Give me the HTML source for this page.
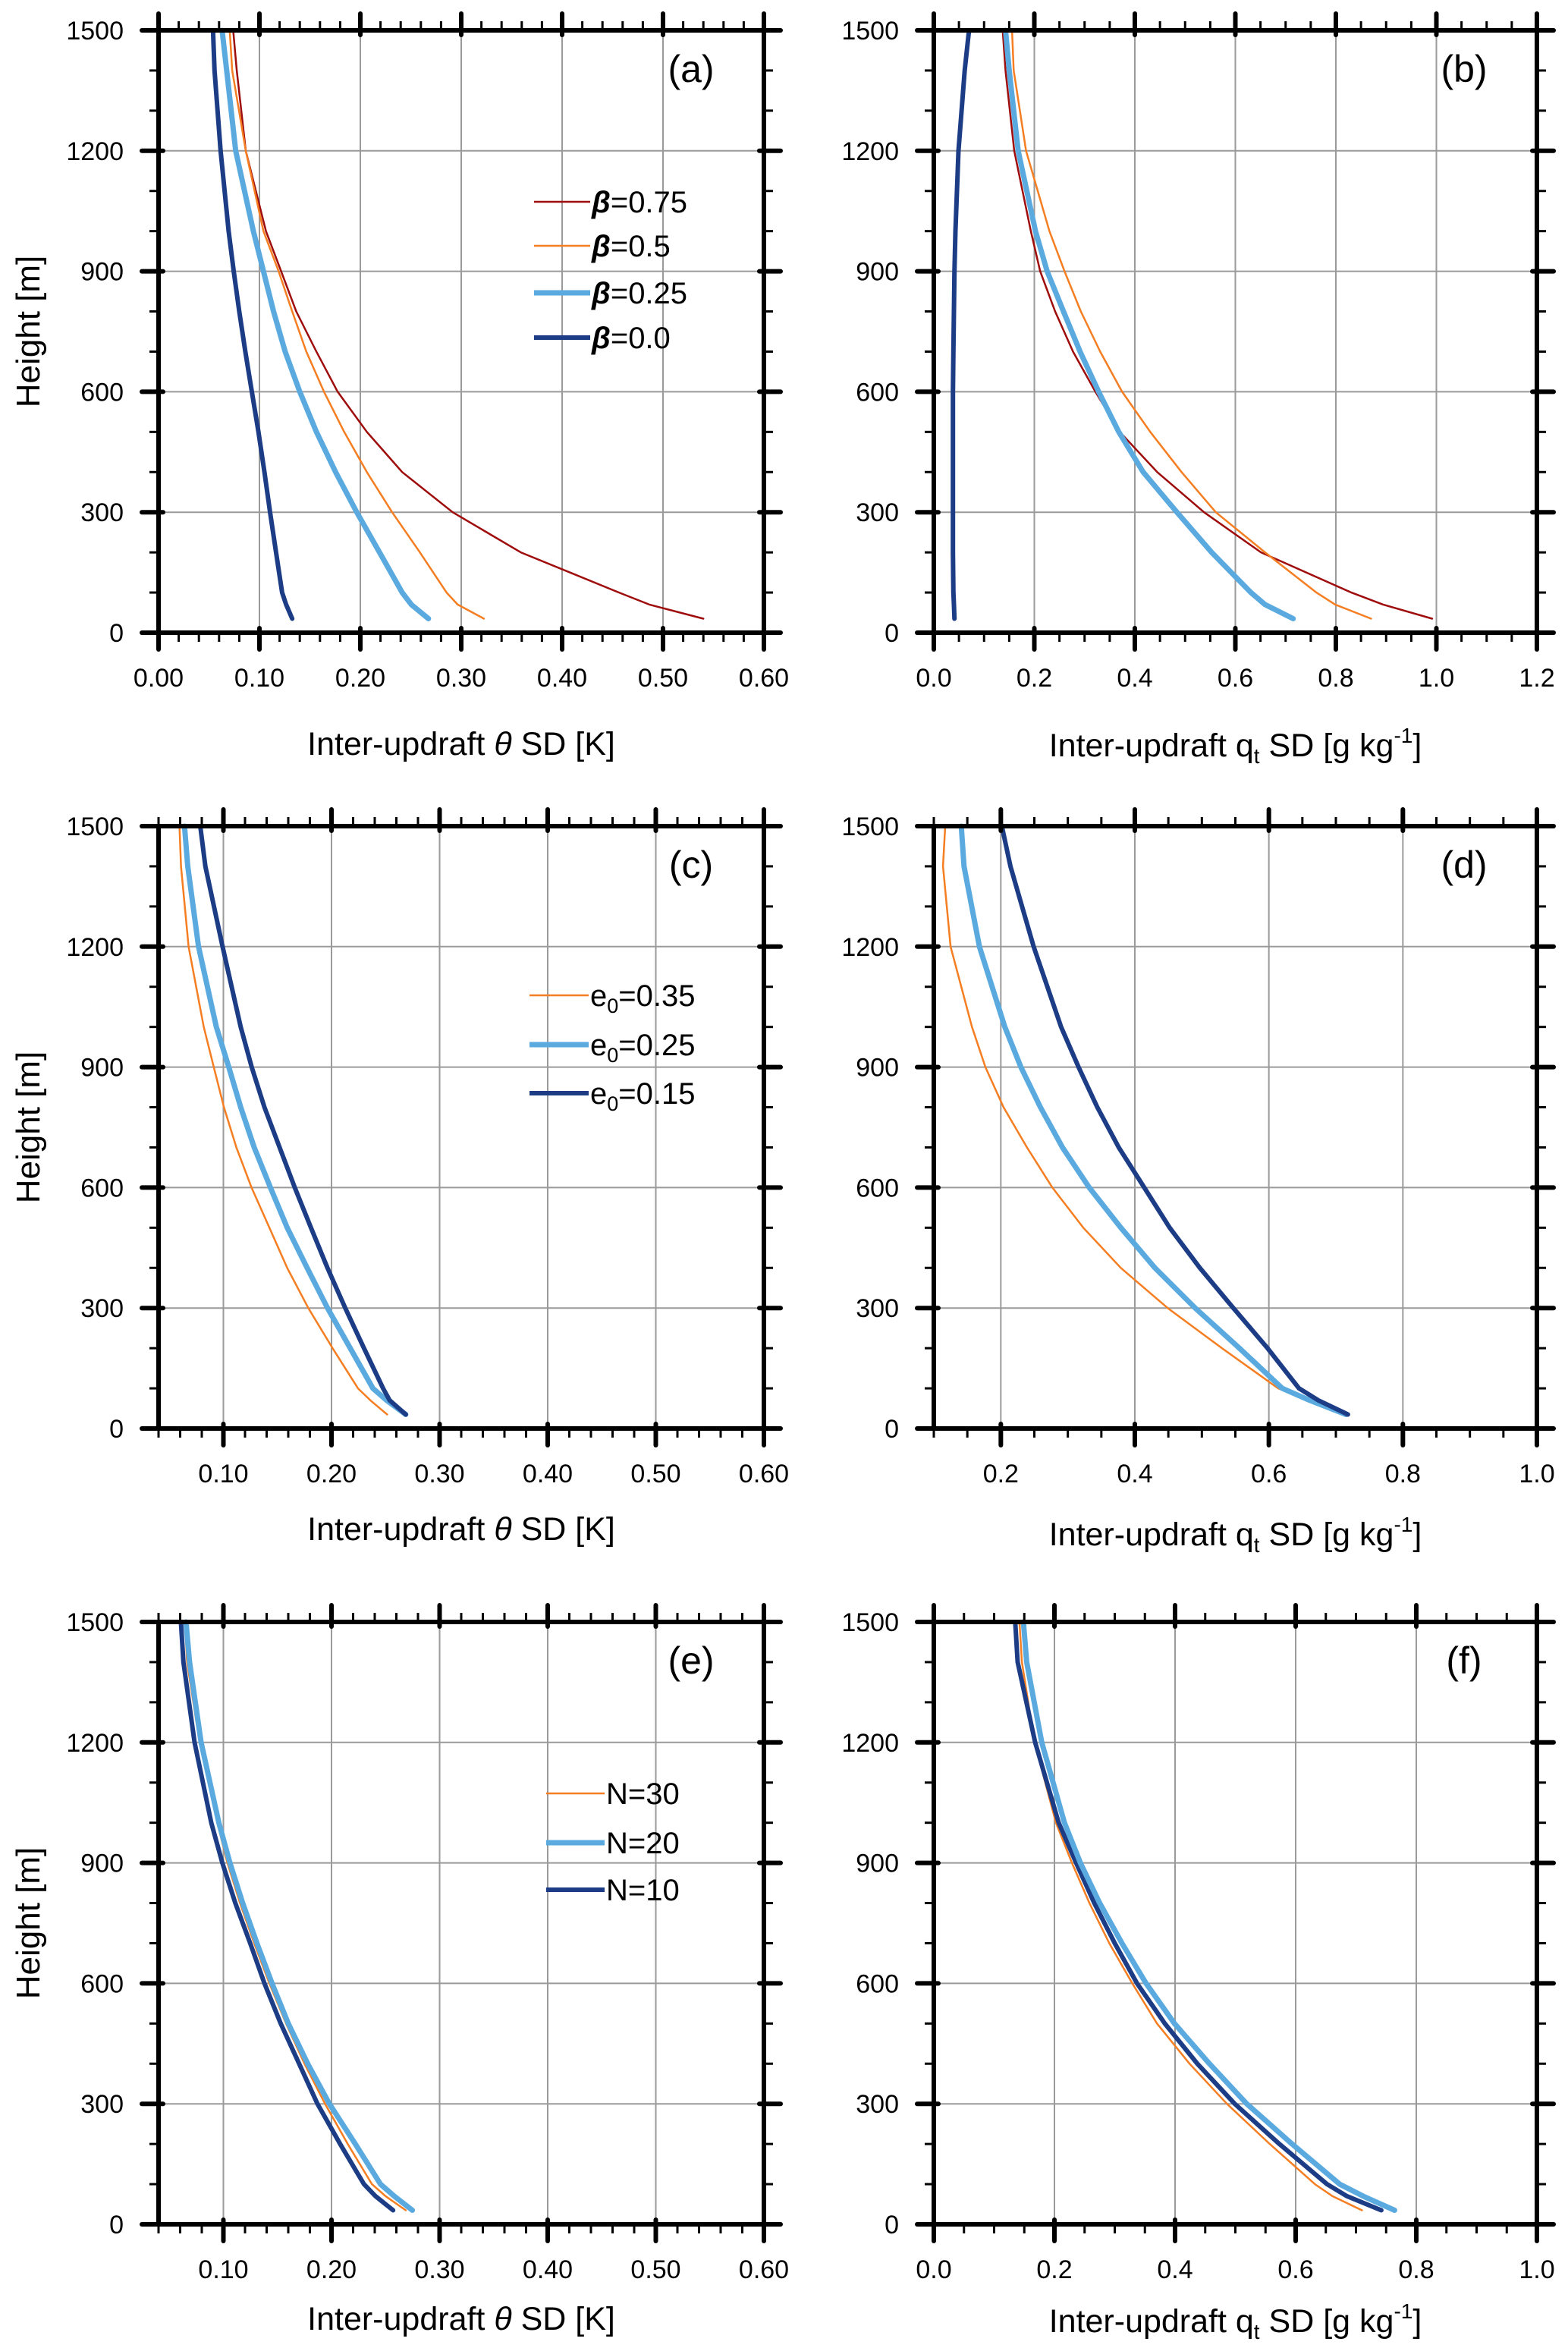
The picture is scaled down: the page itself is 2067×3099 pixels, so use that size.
<!DOCTYPE html>
<html><head><meta charset="utf-8"><style>
html,body{margin:0;padding:0;background:#fff;}
svg{display:block;font-family:"Liberation Sans",Arial,sans-serif;}
</style></head>
<body>
<svg id="fig" width="2067" height="3099" viewBox="0 0 2067 3099" xmlns="http://www.w3.org/2000/svg"></svg>
<script>
// ---- shared data ----
const heights = [1500,1400,1200,1000,900,800,700,600,500,400,300,200,100,70,35];
// panel a: theta SD, beta
const aB075 = [0.074,0.0775,0.0865,0.1065,0.1215,0.1365,0.1565,0.1775,0.2065,0.2415,0.2915,0.359,0.4565,0.4865,0.54];
const aB050 = [0.0705,0.073,0.0865,0.104,0.119,0.1325,0.1465,0.164,0.184,0.2065,0.2315,0.259,0.2855,0.2965,0.3225];
const aB025 = [0.063,0.0675,0.0765,0.094,0.104,0.114,0.1255,0.14,0.1565,0.1755,0.1965,0.219,0.2415,0.2505,0.2675];
const aB000 = [0.054,0.0555,0.0615,0.0695,0.0745,0.0800,0.0860,0.0925,0.099,0.105,0.1105,0.1165,0.1225,0.1265,0.1325];
// panel b: qt SD, beta
const bB075 = [0.137,0.1426,0.16,0.193,0.2116,0.2414,0.277,0.3215,0.37,0.4446,0.5377,0.651,0.831,0.894,0.9916];
const bB050 = [0.1556,0.159,0.1836,0.23,0.26,0.2926,0.331,0.3747,0.4306,0.493,0.561,0.659,0.7614,0.7987,0.87];
const bB025 = [0.1426,0.15,0.1678,0.2022,0.2255,0.258,0.291,0.328,0.368,0.4166,0.4837,0.5527,0.631,0.659,0.715];
const bB000 = [0.07,0.0615,0.049,0.043,0.041,0.04,0.039,0.038,0.038,0.038,0.038,0.038,0.039,0.04,0.041];
// panel c: theta SD, e0
const cE035 = [0.0594,0.0608,0.0678,0.0818,0.0911,0.1005,0.112,0.126,0.1425,0.159,0.1785,0.201,0.2245,0.236,0.2515];
const cE025 = [0.064,0.067,0.077,0.0935,0.105,0.116,0.1285,0.1435,0.159,0.1775,0.1963,0.2173,0.2383,0.251,0.2687];
const cE015 = [0.0786,0.0833,0.0992,0.116,0.1262,0.138,0.152,0.166,0.181,0.1963,0.2127,0.23,0.2477,0.2538,0.2687];
// panel d: qt SD, e0
const dE035 = [0.117,0.1137,0.125,0.157,0.177,0.204,0.239,0.277,0.323,0.379,0.449,0.53,0.614,0.661,0.715];
const dE025 = [0.141,0.145,0.168,0.206,0.23,0.259,0.292,0.332,0.379,0.43,0.49,0.556,0.62,0.661,0.715];
const dE015 = [0.2016,0.2143,0.249,0.29,0.316,0.344,0.376,0.414,0.452,0.497,0.547,0.598,0.645,0.674,0.718];
// panel e: theta SD, N
const eN30 = [0.0645,0.0664,0.078,0.0944,0.1037,0.1154,0.1285,0.1425,0.158,0.175,0.194,0.215,0.2374,0.25,0.2687];
const eN20 = [0.0654,0.0687,0.0794,0.0958,0.106,0.1178,0.131,0.145,0.16,0.178,0.198,0.222,0.2453,0.258,0.2748];
const eN10 = [0.0607,0.063,0.0733,0.0888,0.099,0.111,0.1248,0.138,0.153,0.17,0.187,0.208,0.23,0.2407,0.257];
// panel f: qt SD, N
const fN30 = [0.142,0.146,0.167,0.2025,0.229,0.258,0.291,0.329,0.37,0.424,0.486,0.557,0.632,0.661,0.71];
const fN20 = [0.1485,0.154,0.179,0.2166,0.243,0.275,0.312,0.352,0.399,0.457,0.519,0.594,0.673,0.712,0.764];
const fN10 = [0.135,0.139,0.168,0.207,0.236,0.266,0.30,0.337,0.383,0.437,0.499,0.573,0.652,0.685,0.742];
// tick labels
const thetaTicksA = ["0.00","0.10","0.20","0.30","0.40","0.50","0.60"];
const thetaTicksCE = ["0.10","0.20","0.30","0.40","0.50","0.60"];
const qtTicksB = ["0.0","0.2","0.4","0.6","0.8","1.0","1.2"];
const qtTicksD = ["0.2","0.4","0.6","0.8","1.0"];
const qtTicksF = ["0.0","0.2","0.4","0.6","0.8","1.0"];
const yTicks = ["0","300","600","900","1200","1500"];

const C_RED="#9e0c0c", C_OR="#f67e22", C_LB="#5aaae0", C_DB="#1c3d85";
const NS="http://www.w3.org/2000/svg";
const svg=document.getElementById('fig');
function mk(tag,attrs,parent){const e=document.createElementNS(NS,tag);for(const k in attrs)e.setAttribute(k,attrs[k]);(parent||svg).appendChild(e);return e;}

function panel(p){
  const g=mk('g',{});
  
  
  const X=v=>p.x0+(v-p.xmin)/(p.xmax-p.xmin)*(p.x1-p.x0);
  const Y=h=>p.y1-(h/1500)*(p.y1-p.y0);
  const grid=mk('g',{},g);
  
  
  p.xticks.forEach(t=>{const v=parseFloat(t);const x=X(v);
    if(x>p.x0+3&&x<p.x1-3){const l=mk('line',{x1:x,x2:x,y1:p.y0,y2:p.y1,stroke:'#9a9a9a','stroke-width':2},grid);
      }});
  yTicks.forEach(t=>{const y=Y(+t);
    if(y>p.y0+3&&y<p.y1-3){const l=mk('line',{x1:p.x0,x2:p.x1,y1:y,y2:y,stroke:'#9a9a9a','stroke-width':2},grid);
      }});
  p.series.forEach(s=>{
    const pts=s.vals.map((v,i)=>X(v).toFixed(1)+','+Y(heights[i]).toFixed(1)).join(' ');
    const pl=mk('polyline',{points:pts,fill:'none',stroke:s.color,'stroke-width':s.w,'stroke-linejoin':'round','stroke-linecap':'round'},g);
    
    
  });
  const tk=mk('g',{stroke:'#000'},g);
  
  
  for(let v=p.minorStart;v<=p.xmax+1e-9;v+=p.minor){const x=X(v);
    mk('line',{x1:x,x2:x,y1:p.y1,y2:p.y1+12,'stroke-width':3},tk);
    mk('line',{x1:x,x2:x,y1:p.y0,y2:p.y0-12,'stroke-width':3},tk);}
  for(let h=0;h<=1500;h+=100){const y=Y(h);
    mk('line',{x1:p.x0,x2:p.x0-12,y1:y,y2:y,'stroke-width':3},tk);
    mk('line',{x1:p.x1,x2:p.x1+12,y1:y,y2:y,'stroke-width':3},tk);}
  p.xticks.forEach(t=>{const x=X(parseFloat(t));
    mk('line',{x1:x,x2:x,y1:p.y1-6,y2:p.y1+22,'stroke-width':6,'stroke-linecap':'round'},tk);
    mk('line',{x1:x,x2:x,y1:p.y0+6,y2:p.y0-22,'stroke-width':6,'stroke-linecap':'round'},tk);});
  yTicks.forEach(t=>{const y=Y(+t);
    mk('line',{x1:p.x0+6,x2:p.x0-22,y1:y,y2:y,'stroke-width':6,'stroke-linecap':'round'},tk);
    mk('line',{x1:p.x1-6,x2:p.x1+22,y1:y,y2:y,'stroke-width':6,'stroke-linecap':'round'},tk);});
  const fr=mk('rect',{x:p.x0,y:p.y0,width:p.x1-p.x0,height:p.y1-p.y0,fill:'none',stroke:'#000','stroke-width':6},g);
  
  
  p.xticks.forEach(t=>{const tx=mk('text',{x:X(parseFloat(t)),y:p.y1+71,'font-size':34,'text-anchor':'middle'},g);tx.textContent=t;
    });
  yTicks.forEach(t=>{const tx=mk('text',{x:p.x0-46,y:Y(+t)+12,'font-size':34,'text-anchor':'end'},g);tx.textContent=t;
    });
  const xt=mk('text',{x:(p.x0+p.x1)/2,y:p.y1+p.titleOff+15,'font-size':43,'text-anchor':'middle'},g);
  
  if(p.kind==='theta'){
    xt.innerHTML='Inter-updraft <tspan font-style="italic">θ</tspan> SD [K]';
  } else {
    xt.innerHTML='Inter-updraft q<tspan font-size="28" dy="9">t</tspan><tspan dy="-9"> SD [g kg</tspan><tspan font-size="28" dy="-18">-1</tspan><tspan dy="18">]</tspan>';
  }
  if(p.ytitle){
    const yt=mk('text',{x:0,y:0,'font-size':44,'text-anchor':'middle',transform:'translate(52,'+((p.y0+p.y1)/2)+') rotate(-90)'},g);
    yt.textContent='Height [m]';
    
  }
  const pl=mk('text',{x:p.x1-96,y:p.y0+68,'font-size':50,'text-anchor':'middle'},g);
  pl.textContent='('+p.id+')';
  
  if(p.legend){
    const lg=mk('g',{},g);
    
    p.legend.rows.forEach((r,i)=>{
      const y=p.y0+p.legend.dy[i];
      const e=mk('g',{},lg);
      
      mk('line',{x1:p.legend.lx0,x2:p.legend.lx1,y1:y,y2:y,stroke:r.color,'stroke-width':r.w},e);
      const t=mk('text',{x:p.legend.lx1+2,y:y+14,'font-size':40},e);
      t.innerHTML=r.label;
    });
  }
}

const L_THIN=2.5, L_LB=7, L_DB=6;
panel({id:'a',kind:'theta',x0:209,x1:1007,y0:40,y1:834,xmin:0,xmax:0.6,xticks:thetaTicksA,minor:0.02,minorStart:0,titleOff:146,ytitle:true,
  series:[{name:'beta-0.75',vals:aB075,color:C_RED,w:L_THIN},{name:'beta-0.5',vals:aB050,color:C_OR,w:L_THIN},{name:'beta-0.25',vals:aB025,color:C_LB,w:L_LB},{name:'beta-0.0',vals:aB000,color:C_DB,w:L_DB}],
  legend:{lx0:704,lx1:778,dy:[226,284,346,405],rows:[
    {color:C_RED,w:L_THIN,label:'<tspan font-style="italic" font-weight="bold">β</tspan>=0.75'},
    {color:C_OR,w:L_THIN,label:'<tspan font-style="italic" font-weight="bold">β</tspan>=0.5'},
    {color:C_LB,w:L_LB,label:'<tspan font-style="italic" font-weight="bold">β</tspan>=0.25'},
    {color:C_DB,w:L_DB,label:'<tspan font-style="italic" font-weight="bold">β</tspan>=0.0'}]}});
panel({id:'b',kind:'qt',x0:1231,x1:2026,y0:40,y1:834,xmin:0,xmax:1.2,xticks:qtTicksB,minor:0.05,minorStart:0,titleOff:148,ytitle:false,
  series:[{name:'beta-0.75',vals:bB075,color:C_RED,w:L_THIN},{name:'beta-0.5',vals:bB050,color:C_OR,w:L_THIN},{name:'beta-0.25',vals:bB025,color:C_LB,w:L_LB},{name:'beta-0.0',vals:bB000,color:C_DB,w:L_DB}]});
panel({id:'c',kind:'theta',x0:209,x1:1007,y0:1089,y1:1883,xmin:0.04,xmax:0.6,xticks:thetaTicksCE,minor:0.02,minorStart:0.04,titleOff:132,ytitle:true,
  series:[{name:'e0-0.35',vals:cE035,color:C_OR,w:L_THIN},{name:'e0-0.25',vals:cE025,color:C_LB,w:L_LB},{name:'e0-0.15',vals:cE015,color:C_DB,w:L_DB}],
  legend:{lx0:698,lx1:776,dy:[223,288,352],rows:[
    {color:C_OR,w:L_THIN,label:'e<tspan font-size="27" dy="9">0</tspan><tspan dy="-9">=0.35</tspan>'},
    {color:C_LB,w:L_LB,label:'e<tspan font-size="27" dy="9">0</tspan><tspan dy="-9">=0.25</tspan>'},
    {color:C_DB,w:L_DB,label:'e<tspan font-size="27" dy="9">0</tspan><tspan dy="-9">=0.15</tspan>'}]}});
panel({id:'d',kind:'qt',x0:1231,x1:2026,y0:1089,y1:1883,xmin:0.1,xmax:1.0,xticks:qtTicksD,minor:0.05,minorStart:0.1,titleOff:139,ytitle:false,
  series:[{name:'e0-0.35',vals:dE035,color:C_OR,w:L_THIN},{name:'e0-0.25',vals:dE025,color:C_LB,w:L_LB},{name:'e0-0.15',vals:dE015,color:C_DB,w:L_DB}]});
panel({id:'e',kind:'theta',x0:209,x1:1007,y0:2138,y1:2932,xmin:0.04,xmax:0.6,xticks:thetaTicksCE,minor:0.02,minorStart:0.04,titleOff:124,ytitle:true,
  series:[{name:'N-30',vals:eN30,color:C_OR,w:L_THIN},{name:'N-20',vals:eN20,color:C_LB,w:L_LB},{name:'N-10',vals:eN10,color:C_DB,w:L_DB}],
  legend:{lx0:720,lx1:797,dy:[226,291,353],rows:[
    {color:C_OR,w:L_THIN,label:'N=30'},{color:C_LB,w:L_LB,label:'N=20'},{color:C_DB,w:L_DB,label:'N=10'}]}});
panel({id:'f',kind:'qt',x0:1231,x1:2026,y0:2138,y1:2932,xmin:0,xmax:1.0,xticks:qtTicksF,minor:0.05,minorStart:0,titleOff:127,ytitle:false,
  series:[{name:'N-30',vals:fN30,color:C_OR,w:L_THIN},{name:'N-10',vals:fN10,color:C_DB,w:L_DB},{name:'N-20',vals:fN20,color:C_LB,w:L_LB}]});
</script>
</body></html>
